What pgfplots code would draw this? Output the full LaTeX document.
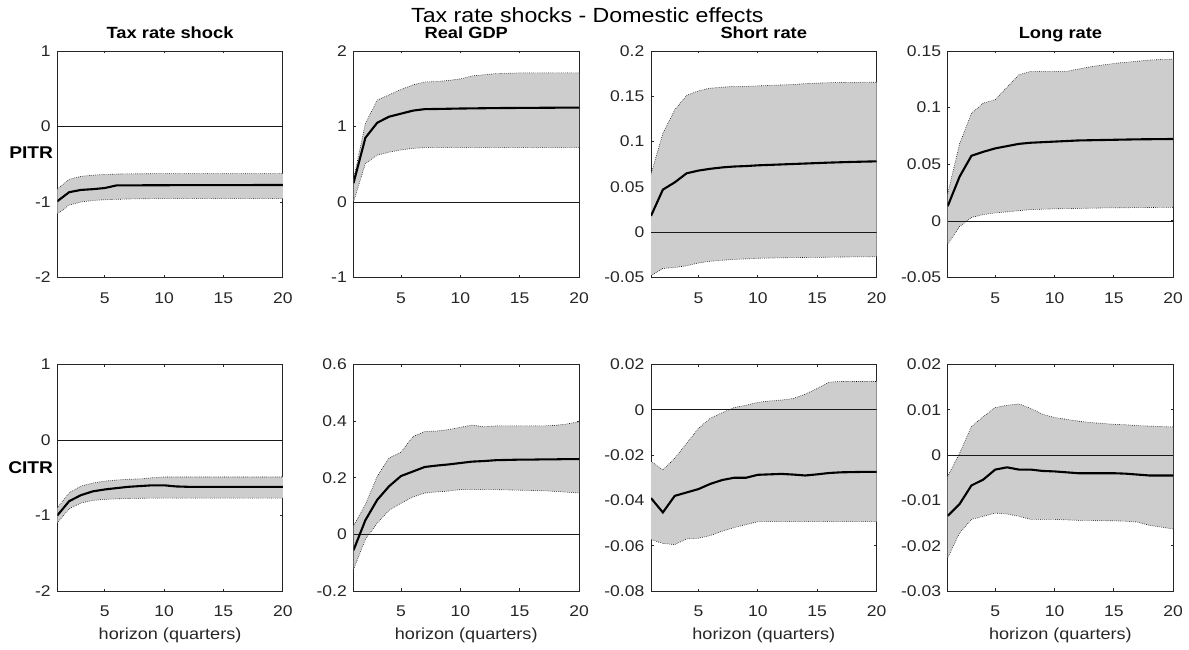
\documentclass[border=0pt]{standalone}
\usepackage{fontspec}
\setmainfont{Liberation Sans}[FakeStretch=1.13]
\usepackage{pgfplots}
\pgfplotsset{compat=1.18}
\usepackage{pgfplotstable}
\usepgfplotslibrary{fillbetween}

\definecolor{axisgray}{RGB}{38,38,38}
\definecolor{bandgray}{RGB}{205,205,205}

% columns: horizon, median response, lower and upper band
\pgfplotstableread{
x med lo hi
1 -0.99 -1.16 -0.83
2 -0.87 -1.04 -0.70
3 -0.84 -1.00 -0.66
4 -0.83 -0.98 -0.645
5 -0.815 -0.97 -0.635
6 -0.78 -0.965 -0.63
7 -0.78 -0.96 -0.627
8 -0.779 -0.958 -0.626
9 -0.778 -0.956 -0.625
10 -0.778 -0.955 -0.625
11 -0.777 -0.955 -0.625
12 -0.777 -0.955 -0.625
13 -0.777 -0.955 -0.625
14 -0.776 -0.955 -0.625
15 -0.776 -0.955 -0.625
16 -0.776 -0.955 -0.625
17 -0.776 -0.955 -0.625
18 -0.775 -0.955 -0.625
19 -0.775 -0.955 -0.625
20 -0.775 -0.955 -0.625
}\pTax
\pgfplotstableread{
x med lo hi
1 0.25 0.00 0.30
2 0.85 0.51 1.04
3 1.05 0.62 1.35
4 1.13 0.66 1.42
5 1.17 0.69 1.49
6 1.21 0.71 1.55
7 1.23 0.72 1.59
8 1.232 0.72 1.595
9 1.235 0.72 1.61
10 1.238 0.72 1.63
11 1.24 0.72 1.67
12 1.242 0.72 1.685
13 1.244 0.72 1.70
14 1.245 0.72 1.705
15 1.246 0.72 1.71
16 1.247 0.72 1.71
17 1.248 0.72 1.71
18 1.249 0.72 1.71
19 1.25 0.72 1.71
20 1.25 0.72 1.71
}\pGdp
\pgfplotstableread{
x med lo hi
1 0.018 -0.048 0.064
2 0.047 -0.040 0.109
3 0.055 -0.039 0.135
4 0.065 -0.037 0.151
5 0.068 -0.034 0.156
6 0.070 -0.032 0.159
7 0.0715 -0.031 0.160
8 0.0725 -0.030 0.161
9 0.073 -0.0295 0.161
10 0.0738 -0.0288 0.1615
11 0.0743 -0.0285 0.162
12 0.0748 -0.0283 0.1625
13 0.0753 -0.0281 0.163
14 0.0758 -0.0279 0.164
15 0.0763 -0.0278 0.1645
16 0.0768 -0.0276 0.165
17 0.0772 -0.0274 0.1652
18 0.0776 -0.0273 0.1654
19 0.0779 -0.0272 0.1655
20 0.0782 -0.027 0.1655
}\pShort
\pgfplotstableread{
x med lo hi
1 0.013 -0.0205 0.024
2 0.039 -0.005 0.068
3 0.0575 0.003 0.095
4 0.061 0.0056 0.104
5 0.064 0.007 0.107
6 0.066 0.008 0.118
7 0.068 0.009 0.129
8 0.069 0.010 0.132
9 0.0695 0.0103 0.132
10 0.070 0.0106 0.132
11 0.0705 0.0108 0.132
12 0.071 0.011 0.134
13 0.0712 0.0112 0.136
14 0.0714 0.0114 0.1375
15 0.0716 0.0115 0.139
16 0.0718 0.0116 0.140
17 0.072 0.0117 0.141
18 0.0721 0.0118 0.142
19 0.0722 0.0119 0.1425
20 0.0723 0.012 0.1428
}\pLong
\pgfplotstableread{
x med lo hi
1 -1.0 -1.10 -0.90
2 -0.81 -0.91 -0.70
3 -0.73 -0.835 -0.61
4 -0.68 -0.80 -0.57
5 -0.655 -0.787 -0.545
6 -0.637 -0.78 -0.53
7 -0.62 -0.775 -0.52
8 -0.61 -0.772 -0.515
9 -0.60 -0.77 -0.50
10 -0.60 -0.77 -0.49
11 -0.615 -0.77 -0.49
12 -0.62 -0.77 -0.49
13 -0.62 -0.77 -0.49
14 -0.62 -0.77 -0.49
15 -0.62 -0.77 -0.49
16 -0.62 -0.77 -0.49
17 -0.62 -0.77 -0.49
18 -0.62 -0.77 -0.49
19 -0.62 -0.77 -0.49
20 -0.62 -0.77 -0.49
}\cTax
\pgfplotstableread{
x med lo hi
1 -0.056 -0.124 0.03
2 0.05 -0.018 0.105
3 0.122 0.04 0.205
4 0.17 0.085 0.27
5 0.206 0.11 0.29
6 0.222 0.132 0.345
7 0.238 0.146 0.363
8 0.243 0.15 0.365
9 0.247 0.153 0.37
10 0.252 0.158 0.378
11 0.257 0.158 0.386
12 0.259 0.158 0.38
13 0.262 0.158 0.383
14 0.263 0.157 0.383
15 0.264 0.156 0.383
16 0.264 0.155 0.383
17 0.265 0.154 0.383
18 0.265 0.152 0.385
19 0.266 0.149 0.39
20 0.266 0.146 0.398
}\cGdp
\pgfplotstableread{
x med lo hi
1 -0.039 -0.0573 -0.0228
2 -0.0453 -0.059 -0.0265
3 -0.038 -0.0595 -0.0214
4 -0.0365 -0.057 -0.0148
5 -0.035 -0.0567 -0.0082
6 -0.0327 -0.0555 -0.0037
7 -0.031 -0.0536 -0.0013
8 -0.030 -0.052 0.001
9 -0.030 -0.0507 0.002
10 -0.0287 -0.0494 0.0033
11 -0.0285 -0.0494 0.0039
12 -0.0283 -0.0494 0.0043
13 -0.0286 -0.0494 0.005
14 -0.029 -0.0494 0.0069
15 -0.0285 -0.0494 0.0094
16 -0.0279 -0.0494 0.0122
17 -0.0276 -0.0494 0.0125
18 -0.0275 -0.0494 0.0125
19 -0.0274 -0.0494 0.0125
20 -0.0274 -0.0494 0.0125
}\cShort
\pgfplotstableread{
x med lo hi
1 -0.0134 -0.0227 -0.0047
2 -0.0108 -0.0172 0.0004
3 -0.0067 -0.0142 0.0063
4 -0.0054 -0.0135 0.0085
5 -0.0032 -0.0128 0.0105
6 -0.0027 -0.013 0.011
7 -0.0032 -0.0135 0.0113
8 -0.0032 -0.0142 0.0103
9 -0.0035 -0.0142 0.009
10 -0.0036 -0.0142 0.0083
11 -0.0038 -0.0143 0.0079
12 -0.004 -0.0144 0.0075
13 -0.004 -0.0144 0.0072
14 -0.004 -0.0145 0.007
15 -0.004 -0.0145 0.0068
16 -0.0041 -0.0146 0.0067
17 -0.0043 -0.0148 0.0065
18 -0.0045 -0.0155 0.0064
19 -0.0045 -0.0159 0.0063
20 -0.0045 -0.0163 0.0062
}\cLong

\pgfplotsset{
  irf/.style={
    scale only axis, width=225.5pt, height=226.5pt,
    anchor=north west,
    xmin=1, xmax=20, xtick={5,10,15,20},
    axis line style={axisgray, line width=0.8pt},
    tick style={axisgray, line width=0.8pt},
    tick align=inside, major tick length=2.5pt,
    ticklabel style={font=\fontsize{15.5}{18}\selectfont, text=axisgray},
    /pgf/number format/assume math mode=true,
    /pgf/number format/fixed, /pgf/number format/precision=3,
    scaled y ticks=false,
    xticklabel style={anchor=base, inner sep=0pt, yshift=-25.6pt},
    yticklabel style={anchor=east, inner sep=0pt, xshift=-6.5pt},
    title style={font=\bfseries\fontsize{16.2}{19}\selectfont, inner sep=0pt, at={(0.5,1)}, anchor=base, yshift=6.5pt},
    xlabel style={font=\fontsize{16}{19}\selectfont, text=axisgray, inner sep=0pt, at={(0.5,0)}, anchor=base, yshift=-48.3pt},
  },
  bandedge/.style={black, line width=0.6pt, dash pattern=on 0.6pt off 1.3pt},
}

% band, zero line and median for one response
\newcommand{\irf}[1]{%
  \addplot[draw=none, name path=up] table[x=x, y=hi] {#1};
  \addplot[draw=none, name path=dn] table[x=x, y=lo] {#1};
  \addplot[bandgray, draw=none] fill between[of=up and dn];
  \addplot[bandedge] table[x=x, y=hi] {#1};
  \addplot[bandedge] table[x=x, y=lo] {#1};
  \addplot[black!90, line width=0.7pt] coordinates {(1,0) (20,0)};
  \addplot[black, line width=2.1pt] table[x=x, y=med] {#1};
}

\begin{document}
\begin{tikzpicture}
% page frame
\path (0,0) rectangle (1189pt,-650pt);

\node[anchor=base, inner sep=0pt, font=\fontsize{20.5}{23}\selectfont] at (587.4pt,-22.6pt) {Tax rate shocks - Domestic effects};

% PITR row
\begin{axis}[irf, at={(57.3pt,-51pt)}, title={Tax rate shock},
  ymin=-2, ymax=1, ytick={-2,-1,0,1}]
\irf{\pTax}
\end{axis}
\begin{axis}[irf, at={(353.5pt,-51pt)}, title={Real GDP},
  ymin=-1, ymax=2, ytick={-1,0,1,2}]
\irf{\pGdp}
\end{axis}
\begin{axis}[irf, at={(651pt,-51pt)}, title={Short rate},
  ymin=-0.05, ymax=0.2, ytick={-0.05,0,0.05,0.1,0.15,0.2}]
\irf{\pShort}
\end{axis}
\begin{axis}[irf, at={(947.7pt,-51pt)}, title={Long rate},
  ymin=-0.05, ymax=0.15, ytick={-0.05,0,0.05,0.1,0.15}]
\irf{\pLong}
\end{axis}

% CITR row
\begin{axis}[irf, at={(57.3pt,-364.5pt)}, xlabel={horizon (quarters)},
  ymin=-2, ymax=1, ytick={-2,-1,0,1}]
\irf{\cTax}
\end{axis}
\begin{axis}[irf, at={(353.5pt,-364.5pt)}, xlabel={horizon (quarters)},
  ymin=-0.2, ymax=0.6, ytick={-0.2,0,0.2,0.4,0.6}]
\irf{\cGdp}
\end{axis}
\begin{axis}[irf, at={(651pt,-364.5pt)}, xlabel={horizon (quarters)},
  ymin=-0.08, ymax=0.02, ytick={-0.08,-0.06,-0.04,-0.02,0,0.02}]
\irf{\cShort}
\end{axis}
\begin{axis}[irf, at={(947.7pt,-364.5pt)}, xlabel={horizon (quarters)},
  ymin=-0.03, ymax=0.02, ytick={-0.03,-0.02,-0.01,0,0.01,0.02}]
\irf{\cLong}
\end{axis}

% row labels
\node[anchor=base east, inner sep=0pt, font=\bfseries\fontsize{17}{20}\selectfont] at (53.3pt,-158pt) {PITR};
\node[anchor=base east, inner sep=0pt, font=\bfseries\fontsize{17}{20}\selectfont] at (53.3pt,-473.3pt) {CITR};
\end{tikzpicture}
\end{document}
